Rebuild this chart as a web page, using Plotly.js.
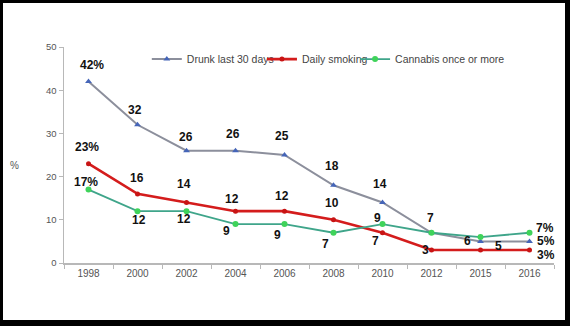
<!DOCTYPE html>
<html>
<head>
<meta charset="utf-8">
<script src="https://cdn.plot.ly/plotly-3.0.1.min.js"></script>
<style>
  html, body { margin: 0; padding: 0; background: #000; }
  #frame { position: relative; width: 570px; height: 326px; background: #000; overflow: hidden; }
  #chart { position: absolute; left: 3px; top: 3px; width: 562px; height: 317px; background: #fff; }
</style>
</head>
<body>
<div id="frame"><div id="chart"></div></div>
<script>
const years = ["1998", "2000", "2002", "2004", "2006", "2008", "2010", "2012", "2015", "2016"];
const drunk = [42, 32, 26, 26, 25, 18, 14, 7, 5, 5];
const smoking = [23, 16, 14, 12, 12, 10, 7, 3, 3, 3];
const cannabis = [17, 12, 12, 9, 9, 7, 9, 7, 6, 7];
const yTicks = [0, 10, 20, 30, 40, 50];

// label pixel offsets [dx, dy(up)]; null = no label
const drunkLab = [[3,17],[-3,15],[-1,14],[-3,17],[-3,19],[-2,19],[-3,19],[-1,15],[18,-5],[16,0]];
const smokeLab = [[-2,17],[-1,16],[-3,19],[-4,12],[-3,15],[-2,17],[-7,-8],[-6,0],null,[16,-5]];
const cannLab  = [[-3,8],[1,-9],[-3,-8],[-9,-7],[-7,-11],[-8,-11],[-5,6],null,[-13,-4],[15,5]];

const traces = [
  {x: years, y: drunk, name: "Drunk last 30 days", type: "scatter", mode: "lines+markers", legend: "legend",
   line: {color: "#8c8f9c", width: 2}, marker: {symbol: "triangle-up", size: 6, color: "#4565b8"}},
  {x: years, y: smoking, name: "Daily smoking", type: "scatter", mode: "lines+markers", legend: "legend2",
   line: {color: "#d41c1c", width: 2.6}, marker: {symbol: "circle", size: 5, color: "#c81414"}},
  {x: years, y: cannabis, name: "Cannabis once or more", type: "scatter", mode: "lines+markers", legend: "legend3",
   line: {color: "#3fa58a", width: 1.8}, marker: {symbol: "circle", size: 6, color: "#3fd35a"}}
];

const annotations = [];
function addLabels(vals, offs) {
  vals.forEach((v, i) => {
    const o = offs[i];
    if (!o) return;
    const last = i === vals.length - 1;
    const txt = (i === 0 || last) ? v + "%" : String(v);
    annotations.push({x: i, y: v, xref: "x", yref: "y", text: txt, showarrow: false,
      xanchor: "center", yanchor: "middle",
      xshift: o[0], yshift: o[1],
      font: {family: "Liberation Sans, Arial, sans-serif", size: 12, color: "#111", weight: "bold"}});
  });
}
addLabels(drunk, drunkLab);
addLabels(smoking, smokeLab);
addLabels(cannabis, cannLab);
annotations.push({xref: "paper", yref: "paper", x: -0.102, y: 0.45, xanchor: "center", yanchor: "middle",
  text: "%", showarrow: false,
  font: {family: "Liberation Sans, Arial, sans-serif", size: 10, color: "#555"}});

function legendAt(x) {
  return {orientation: "h", x: x, y: 0.944, xanchor: "left", yanchor: "middle",
    font: {size: 10.5, color: "#444"}, itemwidth: 30, bgcolor: "rgba(0,0,0,0)"};
}

const layout = {
  width: 562, height: 317,
  margin: {l: 61, r: 11, t: 44, b: 57},
  paper_bgcolor: "#fff", plot_bgcolor: "#fff",
  font: {family: "Liberation Sans, Arial, sans-serif", color: "#555"},
  showlegend: true,
  legend: legendAt(0.169),
  legend2: legendAt(0.404),
  legend3: legendAt(0.594),
  xaxis: {type: "category", range: [-0.5, 9.5], showgrid: false, zeroline: false,
    showline: true, linecolor: "#b8b8b8", linewidth: 1.5, ticks: "outside", tickson: "boundaries",
    ticklen: 4, tickcolor: "#b8b8b8", tickfont: {size: 10, color: "#555"}},
  yaxis: {range: [0, 50], tickvals: yTicks, showgrid: false, zeroline: false,
    showline: true, linecolor: "#b8b8b8", linewidth: 1.5, ticks: "outside", ticklen: 4,
    tickcolor: "#b8b8b8", tickfont: {size: 9.5, color: "#555"}, fixedrange: true},
  annotations: annotations
};

Plotly.newPlot("chart", traces, layout, {displayModeBar: false, staticPlot: true});
</script>
</body>
</html>
